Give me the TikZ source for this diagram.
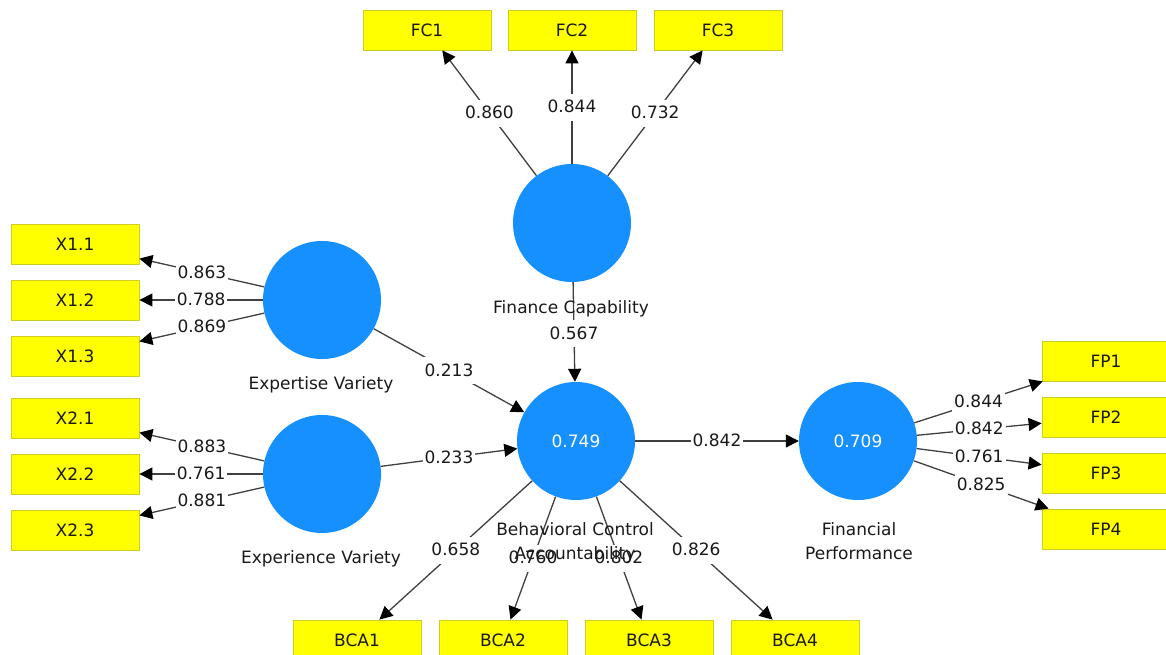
\documentclass[tikz,border=0pt]{standalone}
\usepackage{fontspec}
\setmainfont{DejaVu Sans}
\usetikzlibrary{arrows.meta}

\definecolor{lvblue}{RGB}{22,144,255}
\definecolor{mvyellow}{RGB}{255,255,0}
\definecolor{mvborder}{RGB}{205,205,40}

\begin{document}
\begin{tikzpicture}[x=1pt, y=-1pt,
  font=\fontsize{17}{24}\selectfont,
  latent/.style={circle, fill=lvblue, minimum size=118pt, inner sep=0pt, text=white},
  indicator/.style={rectangle, fill=mvyellow, draw=mvborder, line width=0.8pt,
                    minimum width=128pt, minimum height=40pt, inner sep=0pt, text=black!90},
  pathline/.style={draw=black!75, line width=1.3pt, -{Triangle[length=13pt, width=13pt, color=black]}},
  coef/.style={fill=white, inner xsep=2pt, inner ysep=7pt, text height=12pt, text depth=1pt, text=black!90},
  lvname/.style={align=center, text=black!90}]
\useasboundingbox (0,0) rectangle (1166,655);

\node[latent] (fc)  at (572,223) {};
\node[latent] (exv) at (322,300) {};
\node[latent] (epv) at (322,474) {};
\node[latent] (bca) at (576,441) {0.749};
\node[latent] (fp)  at (858,441) {0.709};

\foreach \i/\x in {1/427, 2/572, 3/718}
  \node[indicator] (fc\i) at (\x,30) {FC\i};
\foreach \i/\y in {1/244, 2/300, 3/356}
  \node[indicator] (xa\i) at (75,\y) {X1.\i};
\foreach \i/\y in {1/418, 2/474, 3/530}
  \node[indicator] (xb\i) at (75,\y) {X2.\i};
\foreach \i/\y in {1/361, 2/417, 3/473, 4/529}
  \node[indicator] (fp\i) at (1106,\y) {FP\i};
\foreach \i/\x in {1/357, 2/503, 3/649, 4/795}
  \node[indicator] (bca\i) at (\x,640) {BCA\i};

\draw[pathline] (fc) -- node[coef] {0.860} (fc1);
\draw[pathline] (fc) -- node[coef] {0.844} (fc2);
\draw[pathline] (fc) -- node[coef] {0.732} (fc3);

\draw[pathline] (exv) -- node[coef] {0.863} (xa1);
\draw[pathline] (exv) -- node[coef] {0.788} (xa2);
\draw[pathline] (exv) -- node[coef] {0.869} (xa3);

\draw[pathline] (epv) -- node[coef] {0.883} (xb1);
\draw[pathline] (epv) -- node[coef] {0.761} (xb2);
\draw[pathline] (epv) -- node[coef] {0.881} (xb3);

\draw[pathline] (fp) -- node[coef] {0.844} (fp1);
\draw[pathline] (fp) -- node[coef] {0.842} (fp2);
\draw[pathline] (fp) -- node[coef] {0.761} (fp3);
\draw[pathline] (fp) -- node[coef] {0.825} (fp4);

\draw[pathline] (bca) -- node[coef] {0.658} (bca1);
\draw[pathline] (bca) -- node[coef] {0.760} (bca2);
\draw[pathline] (bca) -- node[coef] {0.802} (bca3);
\draw[pathline] (bca) -- node[coef] {0.826} (bca4);

\draw[pathline] (fc) -- node[coef, pos=0.52] {0.567} (bca);
\draw[pathline] (exv) -- node[coef] {0.213} (bca);
\draw[pathline] (epv) -- node[coef] {0.233} (bca);
\draw[pathline] (bca) -- node[coef] {0.842} (fp);

\node[lvname] (fcname)  at (571,309) {Finance Capability};
\node[lvname] (exvname) at (321,385) {Expertise Variety};
\node[lvname] (epvname) at (321,559) {Experience Variety};
\node[lvname] (bcaname) at (575,543) {Behavioral Control\\Accountability};
\node[lvname] (fpname)  at (859,541) {Financial\\Performance};
\end{tikzpicture}
\end{document}
